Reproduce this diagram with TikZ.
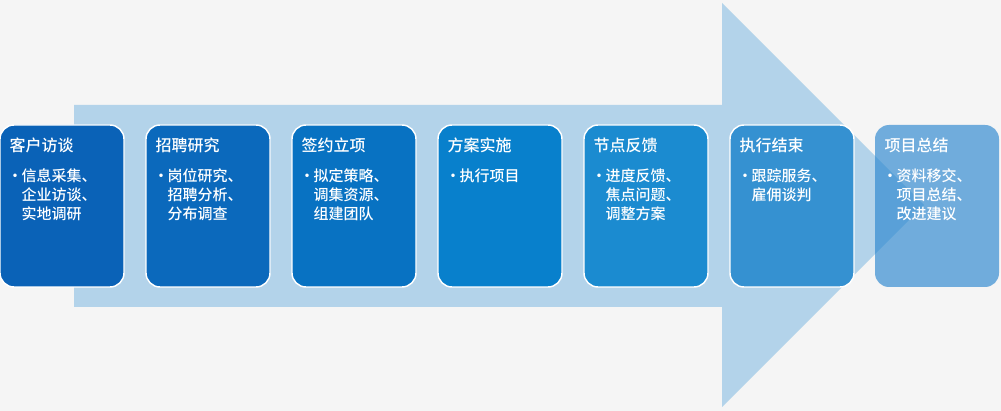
\documentclass[tikz,border=0pt]{standalone}
\usepackage{fontspec}
\setmainfont{Noto Sans CJK SC}[BoldFont={Noto Sans CJK SC Medium}]
\usepackage{tikz}
\usetikzlibrary{calc,positioning}
\usepackage{xcolor}
\definecolor{pageGray}{HTML}{F5F5F5}
\definecolor{arrowBlue}{HTML}{B3D3EA}
\definecolor{stageA}{HTML}{0A62B7}
\definecolor{stageB}{HTML}{0B69BC}
\definecolor{stageC}{HTML}{0872C2}
\definecolor{stageD}{HTML}{0880CC}
\definecolor{stageE}{HTML}{1B8BD0}
\definecolor{stageF}{HTML}{3591D1}
\definecolor{stageG}{HTML}{2A86CF}
\newcommand{\listdot}{\makebox[9.5pt][c]{·}}
\newcommand{\listindent}{\hspace*{9.5pt}}
\tikzset{
  stagebox/.style={rounded corners=10.5pt, draw=white, line width=1.1pt,
    minimum width=93pt, minimum height=121.5pt, inner sep=0pt},
  stagetitle/.style={inner sep=0pt, text=white, font=\fontsize{12pt}{14pt}\selectfont\bfseries},
  stagelist/.style={inner sep=0pt, text=white, align=left,
    font=\fontsize{11.25pt}{14.25pt}\selectfont\bfseries}
}

\begin{document}
\begin{tikzpicture}[x=0.75pt,y=0.75pt]
  \fill[pageGray] (0,0) rectangle (1001,411);
  \useasboundingbox (0,0) rectangle (1001,411);
  % Big arrow behind the stages
  \fill[arrowBlue] (74,306) -- (722,306) -- (722,408) -- (924,206)
    -- (722,4) -- (722,104) -- (74,104) -- cycle;
  % Stage boxes
  \node[stagebox, fill=stageA] (s1) at (62,205) {};
  \node[stagebox, fill=stageB] (s2) at (208,205) {};
  \node[stagebox, fill=stageC] (s3) at (354,205) {};
  \node[stagebox, fill=stageD] (s4) at (500,205) {};
  \node[stagebox, fill=stageE] (s5) at (646,205) {};
  \node[stagebox, fill=stageF] (s6) at (792,205) {};
  \node[stagebox, draw=none, fill=stageG, fill opacity=0.65] (s7) at (937,205) {};
  % Titles
  \node[stagetitle, below right=10pt and 7.5pt of s1.north west] (t1) {客户访谈};
  \node[stagetitle, below right=10pt and 7.5pt of s2.north west] (t2) {招聘研究};
  \node[stagetitle, below right=10pt and 7.5pt of s3.north west] (t3) {签约立项};
  \node[stagetitle, below right=10pt and 7.5pt of s4.north west] (t4) {方案实施};
  \node[stagetitle, below right=10pt and 7.5pt of s5.north west] (t5) {节点反馈};
  \node[stagetitle, below right=10pt and 7.5pt of s6.north west] (t6) {执行结束};
  \node[stagetitle, below right=10pt and 7.5pt of s7.north west] (t7) {项目总结};
  % Bullet lists
  \node[stagelist, below right=33pt and 7pt of s1.north west] (l1)
    {\listdot 信息采集、\\ \listindent 企业访谈、\\ \listindent 实地调研};
  \node[stagelist, below right=33pt and 7pt of s2.north west] (l2)
    {\listdot 岗位研究、\\ \listindent 招聘分析、\\ \listindent 分布调查};
  \node[stagelist, below right=33pt and 7pt of s3.north west] (l3)
    {\listdot 拟定策略、\\ \listindent 调集资源、\\ \listindent 组建团队};
  \node[stagelist, below right=33pt and 7pt of s4.north west] (l4)
    {\listdot 执行项目};
  \node[stagelist, below right=33pt and 7pt of s5.north west] (l5)
    {\listdot 进度反馈、\\ \listindent 焦点问题、\\ \listindent 调整方案};
  \node[stagelist, below right=33pt and 7pt of s6.north west] (l6)
    {\listdot 跟踪服务、\\ \listindent 雇佣谈判};
  \node[stagelist, below right=33pt and 7pt of s7.north west] (l7)
    {\listdot 资料移交、\\ \listindent 项目总结、\\ \listindent 改进建议};
\end{tikzpicture}
\end{document}
